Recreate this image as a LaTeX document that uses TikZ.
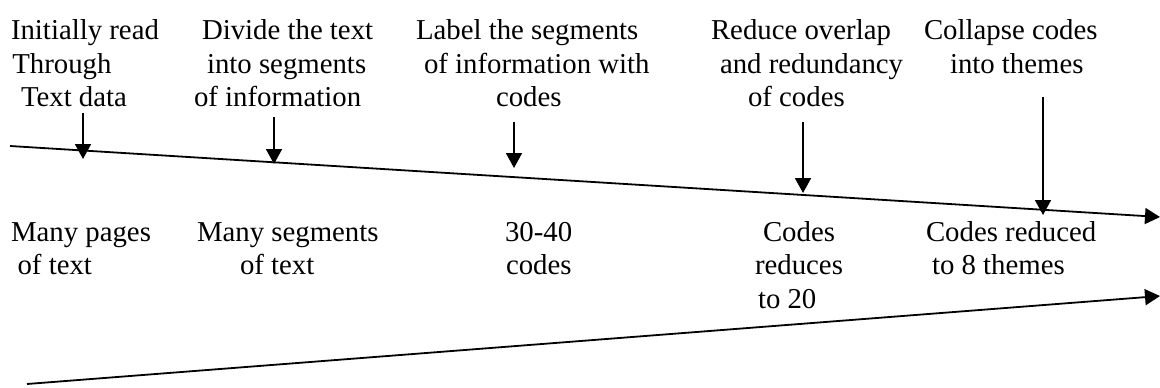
\documentclass[tikz,border=0pt]{standalone}
\usepackage{fontspec}
\setmainfont{Liberation Serif}
\usetikzlibrary{arrows.meta}

% a left-aligned block of lines whose baseline is that of its first line
\newcommand{\stack}[1]{\begin{tabular}[t]{@{}l@{}}#1\end{tabular}}
\newcommand{\ind}[1]{\hspace*{#1pt}}

\begin{document}
\begin{tikzpicture}[x=1pt, y=-1pt,
  lbl/.style={anchor=base west, inner sep=0pt, outer sep=0pt,
              font=\fontsize{28.8}{33.5}\selectfont},
  timeline/.style={line width=1.8pt, -{Triangle[length=15pt,width=16pt]}},
  pointer/.style={line width=1.8pt, -{Triangle[length=15pt,width=16pt]}}]

  \useasboundingbox[fill=white] (0,0) rectangle (1160,388);

  % steps above the upper line
  \node[lbl] (readtext) at (11,39.5) {\stack{Initially read\\\ind{1.3}Through\\\ind{10}Text data}};
  \node[lbl] (divide) at (194,39.5) {\stack{\ind{8}Divide the text\\\ind{13}into segments\\of information}};
  \node[lbl] (labelseg) at (416,39.5) {\stack{Label the segments\\\ind{8}of information with\\\ind{80}codes}};
  \node[lbl] (reduce) at (711,39.5) {\stack{Reduce overlap\\\ind{9}and redundancy\\\ind{37}of codes}};
  \node[lbl] (collapse) at (924,39.5) {\stack{Collapse codes\\\ind{26}into themes}};

  % results between the two lines
  \node[lbl] (pages) at (11,241) {\stack{Many pages\\\ind{6.6}of text}};
  \node[lbl] (segments) at (197,241) {\stack{Many segments\\\ind{43}of text}};
  \node[lbl] (codes) at (505,241) {\stack{30-40\\\ind{1}codes}};
  \node[lbl] (twenty) at (755,241) {\stack{\ind{8}Codes\\reduces\\\ind{3}to 20}};
  \node[lbl] (themes) at (926,241) {\stack{Codes reduced\\\ind{6}to 8 themes}};

  % the two long lines
  \coordinate (upA) at (10,146);
  \coordinate (upB) at (1160,217);
  \coordinate (loA) at (27,384);
  \coordinate (loB) at (1160,296);
  \draw[timeline] (upA) -- (upB);
  \draw[timeline] (loA) -- (loB);

  % short arrows from each step down to the upper line
  \coordinate (p1s) at (83,113);   \coordinate (p1e) at (83,159);
  \coordinate (p2s) at (274,117);  \coordinate (p2e) at (274,164);
  \coordinate (p3s) at (514,122);  \coordinate (p3e) at (514,168);
  \coordinate (p4s) at (803,122);  \coordinate (p4e) at (803,193);
  \coordinate (p5s) at (1043,97);  \coordinate (p5e) at (1043,215);
  \foreach \i in {1,...,5} \draw[pointer] (p\i s) -- (p\i e);
\end{tikzpicture}
\end{document}
